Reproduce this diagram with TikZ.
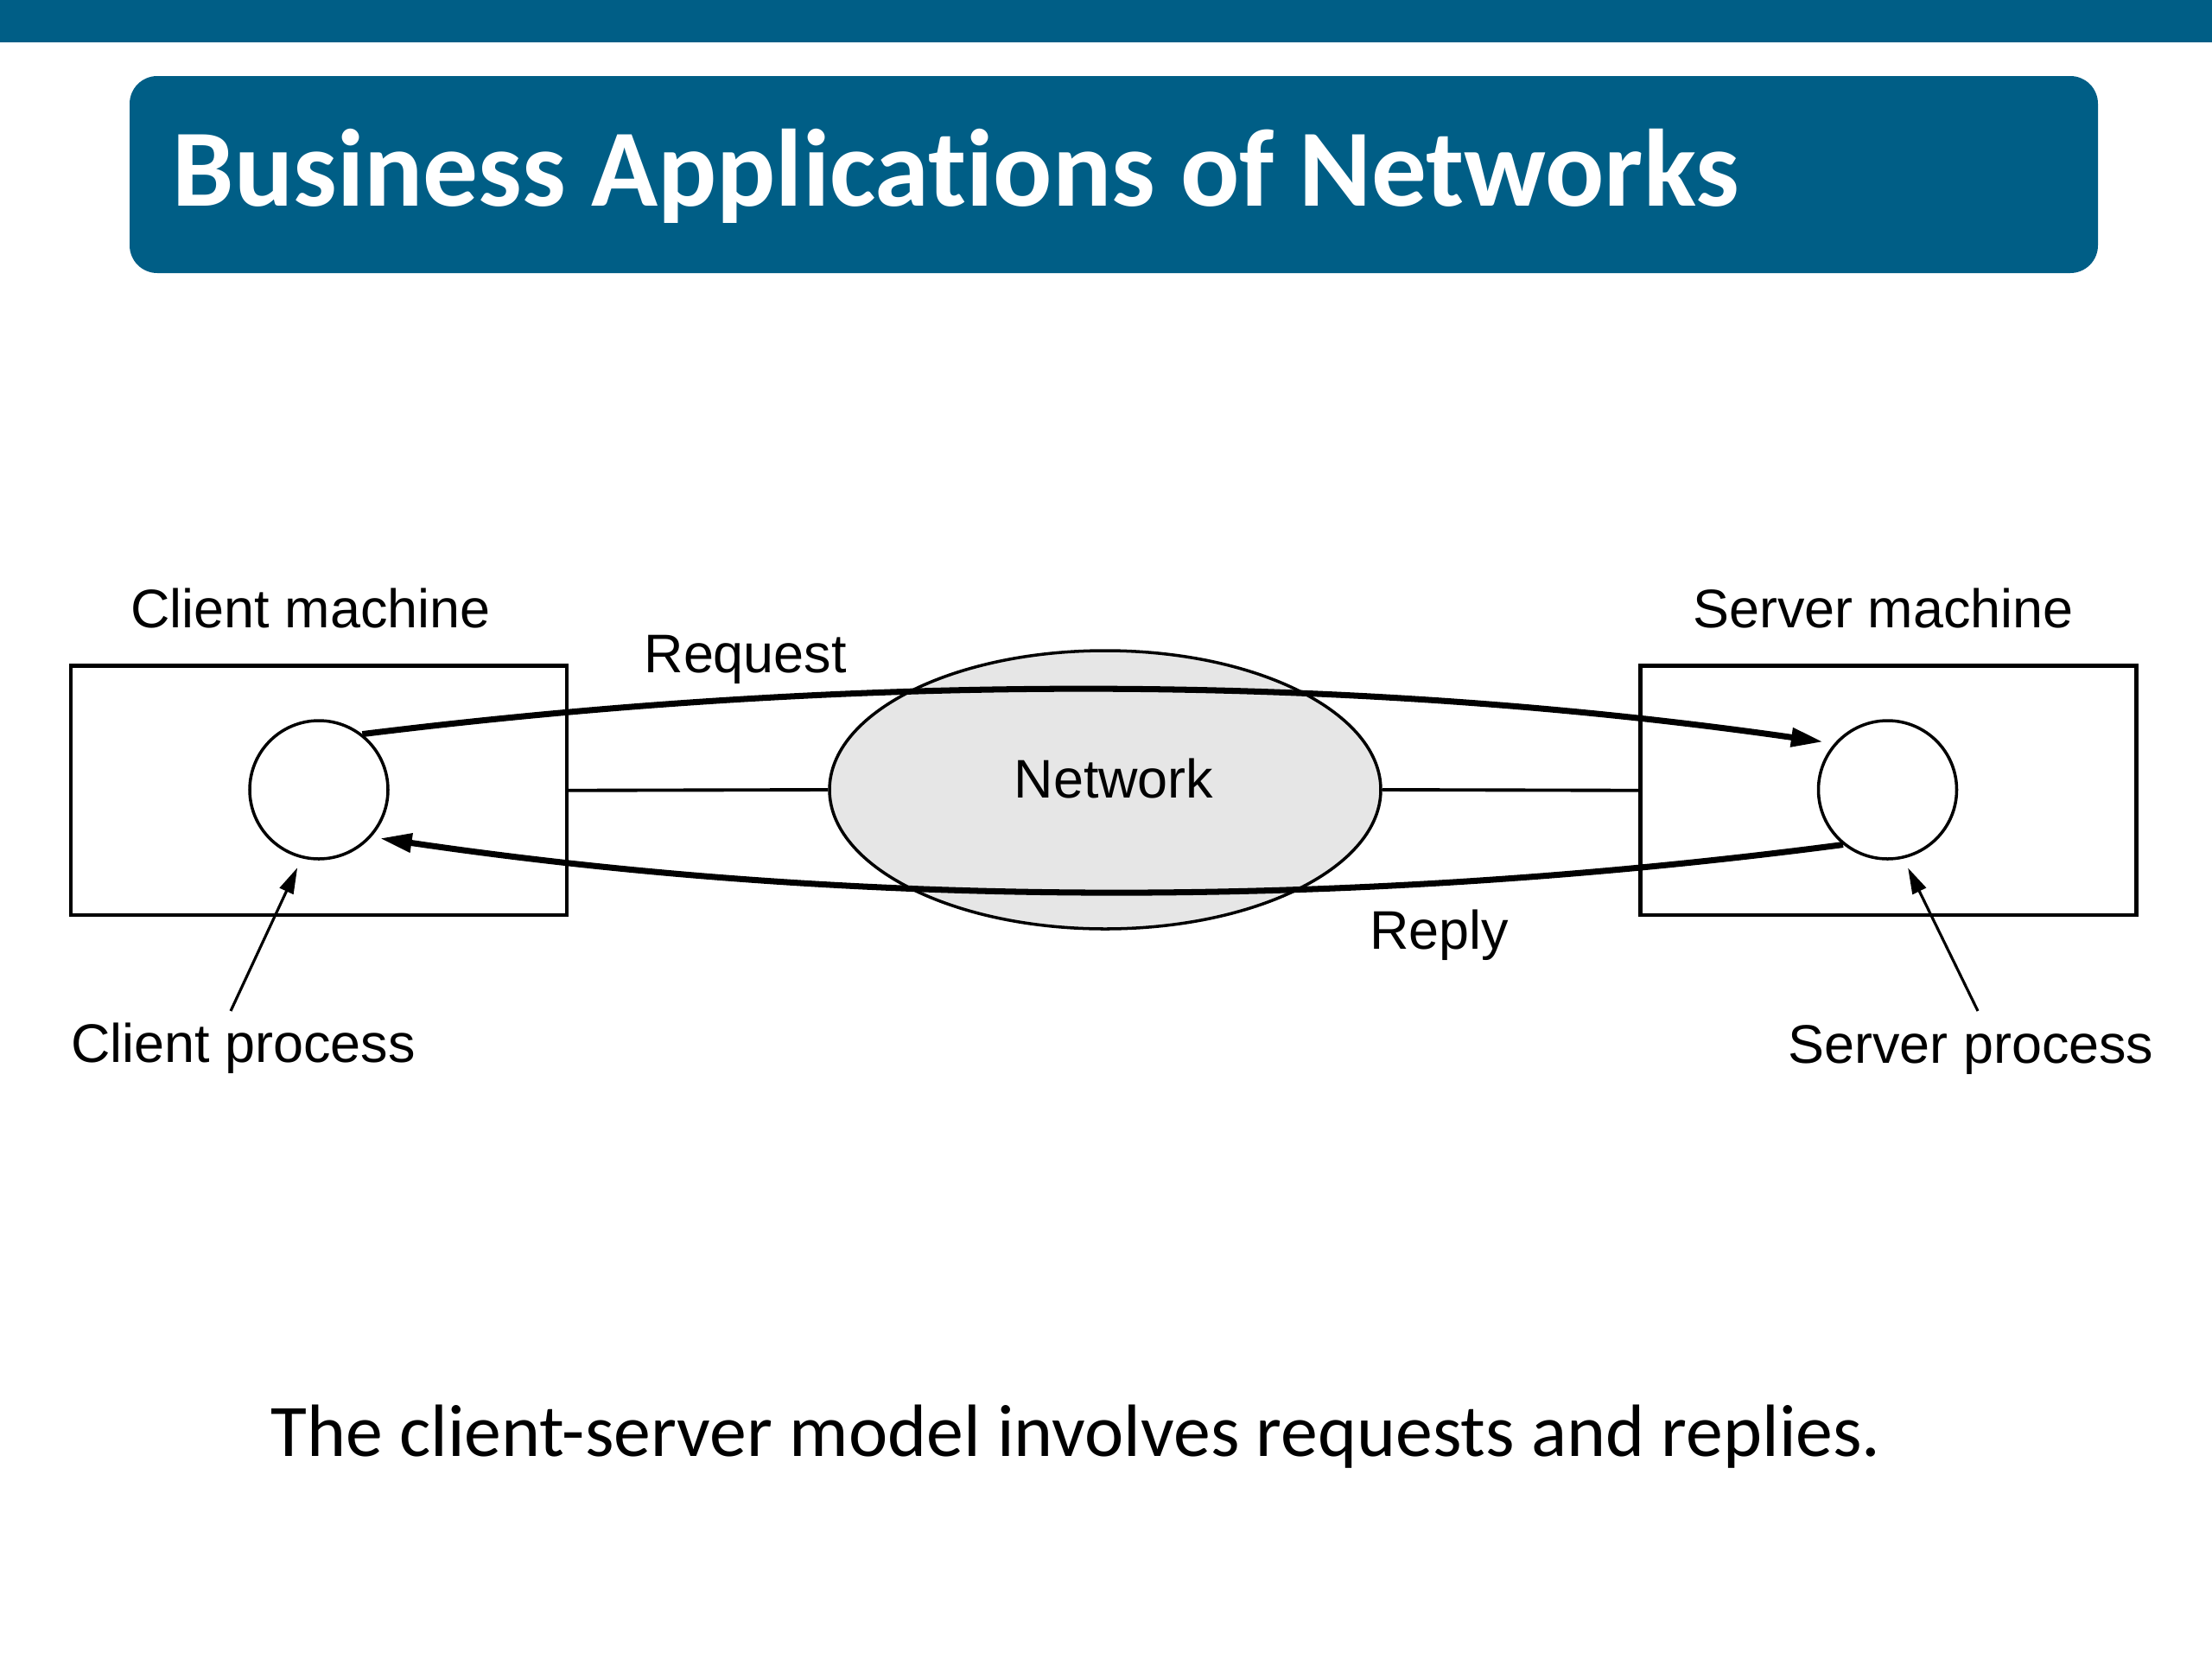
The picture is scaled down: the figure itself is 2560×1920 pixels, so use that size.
\documentclass[tikz,border=0pt]{standalone}
\usepackage{fontspec}
\setmainfont{Liberation Sans}
\newfontfamily\figfont{Liberation Sans}
\newfontfamily\slidefont[Ligatures=NoCommon]{Carlito}
\usetikzlibrary{shapes.geometric,arrows.meta}
\definecolor{barblue}{RGB}{0,94,134}
\definecolor{netgray}{RGB}{230,230,230}
\begin{document}
\begin{tikzpicture}[x=0.1mm,y=-0.1mm,
  figtext/.style={font=\figfont\fontsize{17.9pt}{20pt}\selectfont, inner sep=0pt, anchor=base},
  machine/.style={draw, line width=1.2pt, minimum width=57.4mm, minimum height=28.85mm, inner sep=0pt},
  proc/.style={circle, draw, line width=1pt, minimum size=16mm, inner sep=0pt},
  netcloud/.style={ellipse, draw, fill=netgray, line width=1pt, minimum width=63.8mm, minimum height=32.2mm, inner sep=0pt},
  msg/.style={line width=2pt, -{Triangle[length=3.7mm,width=2.1mm]}},
  pointer/.style={line width=0.9pt, -{Triangle[length=3mm,width=1.7mm]}},
  link/.style={line width=1.1pt},
  titlebox/.style={fill=barblue, rounded corners=3.2mm, minimum width=227.8mm, minimum height=22.8mm, inner sep=0pt}
]
\useasboundingbox (0,0) rectangle (2560,1920);
\fill[white] (0,0) rectangle (2560,1920);
\fill[barblue] (0,0) rectangle (2560,49);
\node[titlebox] (tbox) at (1289,202) {};
\node[anchor=base west, inner sep=0pt, text=white, font=\slidefont\bfseries\fontsize{36.2pt}{40pt}\selectfont] (title) at (199,238) {Business Applications of Networks};

% diagram
\node[netcloud] (net) at (1279,914) {};
\node[machine] (cbox) at (369,914.75) {};
\node[machine] (sbox) at (2185.5,914.75) {};
\node[proc] (cc) at (369,914) {};
\node[proc] (sc) at (2184.5,914) {};
\draw[link] (cbox.east) -- (net.west);
\draw[link] (net.east) -- (sbox.west);

\node[figtext] (nettxt) at (1289,923) {Network};
\node[figtext] (cmach) at (359.5,726.5) {Client machine};
\node[figtext] (smach) at (2179.5,726.5) {Server machine};
\node[figtext] (req) at (862.75,778) {Request};
\node[figtext] (rep) at (1665.5,1098) {Reply};
\node[figtext] (cproc) at (281.5,1229) {Client process};
\node[figtext] (sproc) at (2281,1230) {Server process};

\draw[msg, shorten >=1.3mm] (cc.52) .. controls (990,779) and (1553,779) .. (sc.139);
\draw[msg, shorten >=1mm] (sc.-129) .. controls (1564,1052) and (996,1052) .. (cc.-42);

\coordinate (cpfoot) at (267,1170);
\coordinate (spfoot) at (2289,1170);
\draw[pointer, shorten >=1.2mm] (cpfoot) -- (cc.-104);
\draw[pointer, shorten >=1.2mm] (spfoot) -- (sc.-77);

\node[anchor=base, inner sep=0pt, font=\slidefont\fontsize{24.4pt}{30pt}\selectfont] (caption) at (1245,1685) {The client-server model involves requests and replies.};
\end{tikzpicture}
\end{document}
